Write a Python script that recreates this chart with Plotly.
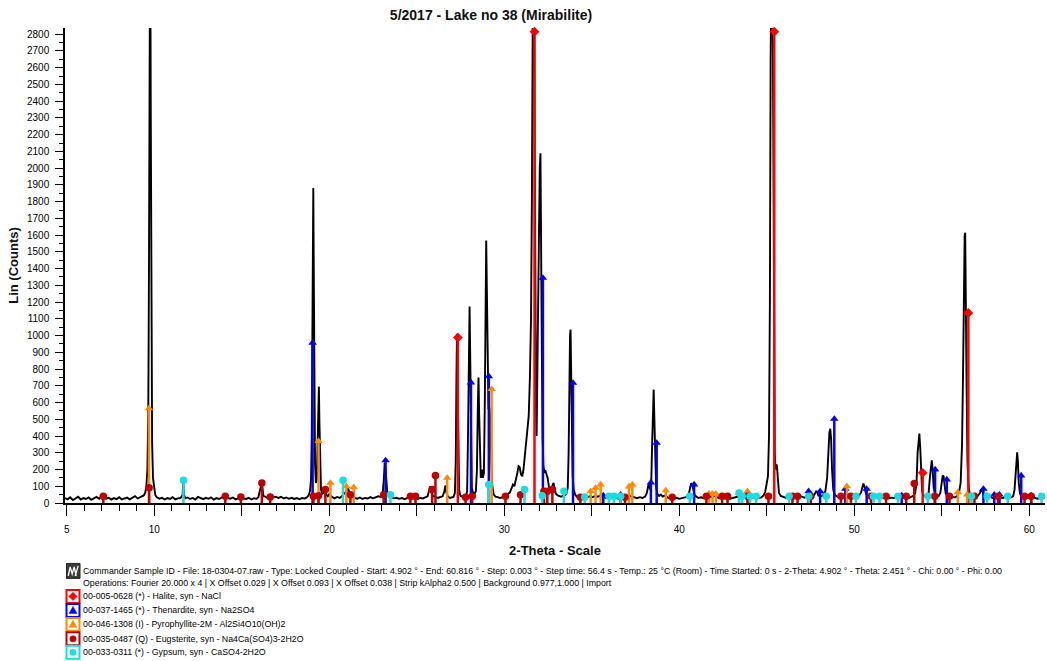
import plotly.graph_objects as go

# ---------------------------------------------------------------------------
# Measured diffractogram: (2-theta in degrees, Lin counts)
# ---------------------------------------------------------------------------
scan = [
    (4.902, 30), (5.05, 22), (5.20, 34), (5.35, 18), (5.50, 27), (5.65, 38), (5.80, 21),
    (5.95, 29), (6.10, 24), (6.25, 33), (6.40, 19), (6.55, 28), (6.70, 36), (6.85, 25),
    (7.00, 44), (7.10, 38), (7.25, 26), (7.40, 31), (7.55, 20), (7.70, 29), (7.85, 23),
    (8.00, 34), (8.15, 21), (8.30, 27), (8.45, 32), (8.60, 22), (8.75, 30), (8.90, 41),
    (9.05, 27), (9.20, 33), (9.30, 38), (9.40, 45),
    (9.48, 60), (9.55, 95), (9.61, 200), (9.66, 520), (9.70, 1400), (9.74, 3300),
    (9.77, 3600), (9.80, 2400), (9.84, 900), (9.88, 360), (9.93, 150), (9.99, 80),
    (10.06, 48), (10.15, 34),
    (10.30, 26), (10.45, 31), (10.60, 21), (10.75, 29), (10.90, 24), (11.05, 35),
    (11.20, 22), (11.35, 28), (11.50, 30), (11.62, 45), (11.66, 122), (11.70, 50),
    (11.78, 28), (11.90, 33), (12.05, 24), (12.20, 30), (12.35, 21), (12.50, 36),
    (12.65, 27), (12.80, 23), (12.95, 31), (13.10, 25), (13.25, 34), (13.40, 20),
    (13.55, 29), (13.70, 24), (13.85, 32), (14.00, 45), (14.08, 50), (14.18, 30),
    (14.35, 26), (14.50, 33), (14.65, 22), (14.80, 28), (14.95, 40), (15.10, 27),
    (15.25, 24), (15.40, 31), (15.55, 21), (15.70, 29), (15.85, 25), (15.95, 34),
    (16.05, 70), (16.12, 110), (16.18, 95), (16.24, 40), (16.35, 38), (16.50, 30),
    (16.65, 45), (16.80, 38), (16.95, 36), (17.10, 30), (17.25, 37), (17.40, 27),
    (17.55, 33), (17.70, 25), (17.85, 31), (18.00, 24), (18.15, 29), (18.30, 22),
    (18.45, 30), (18.60, 27), (18.72, 33), (18.82, 45),
    (18.90, 70), (18.96, 140), (19.00, 380), (19.03, 900), (19.06, 1550), (19.09, 1882),
    (19.12, 1350), (19.15, 600), (19.19, 230), (19.24, 120), (19.29, 140), (19.33, 330),
    (19.37, 620), (19.41, 695), (19.44, 480), (19.48, 190), (19.53, 80), (19.60, 55),
    (19.68, 62), (19.76, 75), (19.84, 48), (19.92, 40), (20.00, 52), (20.08, 42),
    (20.18, 34), (20.30, 28), (20.45, 36), (20.60, 30), (20.72, 40), (20.80, 48),
    (20.90, 60), (21.00, 72), (21.08, 86), (21.14, 70), (21.22, 44), (21.32, 38),
    (21.45, 30), (21.60, 26), (21.75, 33), (21.90, 24), (22.05, 30), (22.20, 27),
    (22.35, 35), (22.50, 28), (22.65, 32), (22.80, 40), (22.95, 36), (23.05, 55),
    (23.12, 140), (23.17, 240), (23.22, 200), (23.27, 90), (23.33, 48), (23.42, 40),
    (23.55, 34), (23.70, 28), (23.85, 31), (24.00, 25), (24.15, 30), (24.30, 23),
    (24.45, 29), (24.60, 34), (24.75, 26), (24.90, 32), (25.05, 24), (25.20, 30),
    (25.35, 27), (25.50, 33), (25.62, 40), (25.72, 80), (25.78, 100), (25.84, 62),
    (25.92, 44), (26.00, 38), (26.10, 32), (26.22, 30), (26.35, 36), (26.48, 40),
    (26.58, 70), (26.64, 105), (26.70, 60), (26.78, 38), (26.90, 30), (27.00, 33),
    (27.10, 36), (27.18, 60), (27.23, 250), (27.27, 750), (27.30, 1011), (27.33, 780),
    (27.37, 280), (27.42, 80), (27.50, 42), (27.60, 38), (27.70, 35), (27.80, 40),
    (27.88, 70), (27.93, 400), (27.98, 1000), (28.02, 1174), (28.06, 850), (28.10, 300),
    (28.15, 90), (28.22, 60), (28.30, 55), (28.38, 70), (28.44, 200), (28.49, 560),
    (28.53, 749), (28.57, 520), (28.62, 220), (28.66, 150), (28.70, 190), (28.74, 200),
    (28.78, 150), (28.84, 180), (28.89, 600), (28.93, 1200), (28.97, 1568), (29.01, 1250),
    (29.05, 700), (29.10, 560), (29.16, 570), (29.21, 480), (29.26, 250), (29.32, 100),
    (29.40, 50), (29.50, 38), (29.62, 35), (29.75, 30), (29.88, 33), (30.00, 42),
    (30.12, 38), (30.22, 55), (30.32, 62), (30.42, 90), (30.50, 110), (30.58, 100),
    (30.66, 130), (30.75, 180), (30.82, 220), (30.88, 215), (30.96, 170), (31.03, 160),
    (31.10, 200), (31.18, 280), (31.26, 360), (31.32, 400), (31.40, 520), (31.47, 760),
    (31.53, 1100), (31.58, 1800), (31.62, 3000), (31.66, 3600), (31.70, 3400),
    (31.74, 2200), (31.78, 1000), (31.82, 520), (31.85, 400), (31.88, 700), (31.91, 936),
    (31.95, 1200), (31.99, 1700), (32.03, 2000), (32.07, 2089), (32.11, 1700),
    (32.15, 900), (32.19, 400), (32.24, 220), (32.30, 185), (32.36, 190), (32.42, 170),
    (32.48, 150), (32.55, 100), (32.62, 75), (32.70, 90), (32.76, 110), (32.82, 120),
    (32.88, 80), (32.95, 55), (33.05, 45), (33.15, 40), (33.25, 38), (33.35, 42),
    (33.45, 45), (33.55, 55), (33.63, 90), (33.68, 300), (33.72, 750), (33.76, 1000),
    (33.79, 1035), (33.82, 850), (33.86, 420), (33.91, 160), (33.97, 80), (34.05, 50),
    (34.15, 38), (34.30, 30), (34.45, 36), (34.60, 28), (34.75, 33), (34.90, 40),
    (35.05, 35), (35.20, 42), (35.35, 38), (35.50, 45), (35.65, 36), (35.80, 30),
    (35.95, 34), (36.10, 28), (36.25, 35), (36.40, 30), (36.55, 26), (36.70, 32),
    (36.85, 28), (37.00, 36), (37.15, 42), (37.30, 38), (37.45, 33), (37.60, 29),
    (37.75, 35), (37.90, 30), (38.05, 38), (38.15, 60), (38.22, 100), (38.28, 118),
    (38.33, 80), (38.40, 120), (38.45, 350), (38.50, 620), (38.54, 677), (38.58, 500),
    (38.63, 200), (38.68, 90), (38.75, 55), (38.85, 42), (38.95, 50), (39.05, 38),
    (39.15, 44), (39.28, 35), (39.40, 30), (39.55, 33), (39.70, 27), (39.85, 31),
    (40.00, 25), (40.15, 29), (40.30, 33), (40.45, 36), (40.55, 55), (40.62, 95),
    (40.68, 118), (40.74, 110), (40.80, 80), (40.88, 48), (40.98, 38), (41.10, 30),
    (41.25, 34), (41.40, 28), (41.55, 32), (41.70, 40), (41.85, 36), (42.00, 42),
    (42.15, 35), (42.30, 29), (42.45, 33), (42.60, 27), (42.75, 31), (42.90, 25),
    (43.05, 30), (43.20, 34), (43.35, 38), (43.50, 42), (43.65, 36), (43.80, 40),
    (43.95, 45), (44.10, 38), (44.25, 33), (44.40, 36), (44.55, 30), (44.70, 34),
    (44.82, 45), (44.92, 70), (45.00, 110), (45.07, 160), (45.13, 400), (45.18, 1200),
    (45.22, 2600), (45.26, 3600), (45.30, 3700), (45.34, 3000), (45.38, 1600),
    (45.42, 700), (45.46, 300), (45.50, 200), (45.54, 230), (45.58, 225), (45.63, 120),
    (45.70, 60), (45.80, 42), (45.95, 35), (46.10, 30), (46.25, 38), (46.40, 33),
    (46.55, 40), (46.70, 36), (46.85, 45), (47.00, 38), (47.15, 32), (47.30, 40),
    (47.45, 48), (47.55, 45), (47.65, 40), (47.75, 55), (47.82, 70), (47.88, 68),
    (47.95, 45), (48.05, 40), (48.15, 42), (48.25, 50), (48.35, 70), (48.45, 150),
    (48.52, 320), (48.58, 420), (48.63, 443), (48.68, 380), (48.73, 200), (48.80, 80),
    (48.88, 50), (48.98, 40), (49.10, 35), (49.25, 42), (49.40, 38), (49.55, 48),
    (49.65, 40), (49.80, 34), (49.95, 30), (50.10, 36), (50.25, 42), (50.38, 60),
    (50.46, 100), (50.52, 116), (50.58, 100), (50.66, 60), (50.75, 40), (50.90, 34),
    (51.05, 30), (51.20, 36), (51.35, 28), (51.50, 33), (51.65, 30), (51.80, 35),
    (51.95, 27), (52.10, 32), (52.25, 29), (52.40, 34), (52.55, 30), (52.70, 36),
    (52.85, 31), (53.00, 35), (53.12, 30), (53.25, 36), (53.38, 42), (53.48, 60),
    (53.56, 120), (53.62, 300), (53.67, 400), (53.72, 415), (53.77, 330), (53.82, 150),
    (53.88, 70), (53.96, 45), (54.05, 40), (54.15, 45), (54.25, 60), (54.32, 150),
    (54.38, 240), (54.43, 255), (54.48, 200), (54.54, 90), (54.62, 50), (54.72, 45),
    (54.82, 42), (54.92, 60), (55.00, 120), (55.05, 160), (55.10, 164), (55.15, 120),
    (55.22, 60), (55.32, 40), (55.45, 35), (55.60, 38), (55.75, 33), (55.88, 42),
    (55.98, 60), (56.08, 120), (56.16, 350), (56.22, 800), (56.27, 1350), (56.31, 1600),
    (56.34, 1614), (56.38, 1300), (56.42, 700), (56.47, 250), (56.53, 100), (56.60, 55),
    (56.70, 40), (56.82, 35), (56.95, 38), (57.08, 45), (57.18, 60), (57.25, 80),
    (57.32, 70), (57.40, 45), (57.52, 36), (57.65, 33), (57.78, 38), (57.90, 30),
    (58.05, 35), (58.20, 28), (58.35, 33), (58.50, 30), (58.65, 36), (58.80, 29),
    (58.95, 34), (59.08, 40), (59.16, 80), (59.22, 200), (59.27, 290), (59.31, 303),
    (59.35, 250), (59.40, 120), (59.47, 55), (59.56, 38), (59.70, 33), (59.85, 30),
    (60.00, 35), (60.15, 28), (60.30, 32), (60.45, 26), (60.60, 30), (60.816, 28),
]
two_theta = [p[0] for p in scan]
counts = [p[1] for p in scan]

# ---------------------------------------------------------------------------
# Reference patterns (stick positions in 2-theta, scaled intensities)
# ---------------------------------------------------------------------------
halite_pos = [27.35, 31.73, 45.43, 53.91, 56.52]
halite_int = [988, 2815, 2815, 180, 1135]

thenardite_pos = [19.05, 23.22, 28.10, 29.12, 32.21, 33.93, 35.66, 36.65, 38.38, 38.71,
                  40.85, 47.39, 48.05, 48.86, 49.49, 50.71, 52.71, 54.62, 55.29, 57.38,
                  58.00, 58.30, 59.54, 60.11]
thenardite_int = [957, 254, 719, 757, 1344, 717, 45, 50, 122, 359,
                  110, 70, 70, 502, 85, 84, 45, 200, 140, 84,
                  50, 50, 164, 45]

pyrophyllite_pos = [9.70, 19.39, 20.07, 20.98, 21.40, 26.74, 29.28, 34.94, 35.22, 35.51,
                    37.13, 37.32, 39.23, 41.70, 41.90, 42.09, 43.42, 43.90, 49.58, 55.92,
                    56.45]
pyrophyllite_int = [565, 369, 120, 100, 94, 150, 680, 70, 90, 110,
                    98, 110, 75, 55, 55, 55, 60, 70, 100, 64,
                    50]

eugsterite_pos = [7.09, 9.71, 14.06, 14.95, 16.15, 16.63, 19.10, 19.39, 19.78, 21.21,
                  23.11, 24.64, 24.93, 25.88, 26.07, 27.79, 28.17, 30.07, 30.93, 32.27,
                  32.46, 32.75, 34.35, 36.90, 39.60, 41.55, 42.45, 42.76, 43.90, 45.10,
                  46.47, 46.76, 47.52, 49.24, 49.81, 50.96, 51.82, 52.97, 53.43, 54.60,
                  55.44, 56.87, 58.21, 59.73, 60.11]
eugsterite_int = [40, 91, 40, 36, 120, 36, 40, 44, 80, 50,
                  50, 40, 40, 80, 164, 34, 40, 40, 50, 70,
                  70, 80, 35, 35, 35, 40, 40, 40, 40, 40,
                  40, 40, 40, 40, 40, 40, 40, 40, 116, 40,
                  40, 40, 40, 40, 40]

gypsum_pos = [11.67, 20.79, 23.50, 29.12, 31.16, 32.17, 33.41, 34.60, 35.98, 36.27,
              36.65, 40.60, 43.42, 43.60, 44.05, 44.40, 46.28, 47.40, 48.40, 50.10,
              51.10, 51.45, 52.50, 54.20, 56.70, 57.60, 58.77, 60.70]
gypsum_int = [136, 136, 50, 110, 80, 44, 70, 36, 40, 40,
              40, 40, 60, 40, 40, 40, 40, 40, 40, 40,
              40, 40, 40, 40, 40, 40, 40, 40]

x_tick_vals = [5, 10, 15, 20, 25, 30, 35, 40, 45, 50, 55, 60]
x_tick_text = ["5", "10", "", "20", "", "30", "", "40", "", "50", "", "60"]

scan_info = ("Commander Sample ID - File: 18-0304-07.raw - Type: Locked Coupled - Start: 4.902 ° - "
             "End: 60.816 ° - Step: 0.003 ° - Step time: 56.4 s - Temp.: 25 °C (Room) - "
             "Time Started: 0 s - 2-Theta: 4.902 ° - Theta: 2.451 ° - Chi: 0.00 ° - Phi: 0.00")
scan_ops = ("Operations: Fourier 20.000 x 4 | X Offset 0.029 | X Offset 0.093 | X Offset 0.038 | "
            "Strip kAlpha2 0.500 | Background 0.977,1.000 | Import")

phases = [
    ("00-005-0628 (*) - Halite, syn - NaCl", halite_pos, halite_int, "#ff0000", "diamond"),
    ("00-037-1465 (*) - Thenardite, syn - Na2SO4", thenardite_pos, thenardite_int, "#0000ff", "triangle"),
    ("00-046-1308 (I) - Pyrophyllite-2M - Al2Si4O10(OH)2", pyrophyllite_pos, pyrophyllite_int, "#ff8a00", "triangle"),
    ("00-035-0487 (Q) - Eugsterite, syn - Na4Ca(SO4)3-2H2O", eugsterite_pos, eugsterite_int, "#c00000", "circle"),
    ("00-033-0311 (*) - Gypsum, syn - CaSO4-2H2O", gypsum_pos, gypsum_int, "#18dde3", "circle"),
]

# ---------------------------------------------------------------------------
W_FIG, H_FIG = 1047, 661
M_L, M_R, M_T, M_B = 65, 2, 28, 157.5
PLOT_W = W_FIG - M_L - M_R
PLOT_H = H_FIG - M_T - M_B
FONT = "Liberation Sans, Arial, sans-serif"
NOTE_SIZE = 8.8


def fx(px):
    return (px - M_L) / PLOT_W


def fy(py):
    return (M_T + PLOT_H - py) / PLOT_H


fig = go.Figure()

fig.add_trace(go.Scatter(
    x=two_theta, y=counts, mode="lines",
    line=dict(color="black", width=1.9), hoverinfo="skip", showlegend=False,
))

symbol_map = {"diamond": "diamond", "triangle": "triangle-up", "circle": "circle"}
for name, pos, inten, color, sym in phases:
    sx, sy = [], []
    for p, h in zip(pos, inten):
        sx += [p, p, None]
        sy += [0, h, None]
    fig.add_trace(go.Scatter(
        x=sx, y=sy, mode="lines", line=dict(color=color, width=2.5),
        hoverinfo="skip", showlegend=False,
    ))
    fig.add_trace(go.Scatter(
        x=pos, y=inten, mode="markers", cliponaxis=False,
        marker=dict(symbol=symbol_map[sym], size=7.5, color=color, line=dict(width=0)),
        name=name, showlegend=False,
    ))

shapes = []
annotations = []

# Scan header rows
annotations.append(dict(text=scan_info, xref="paper", yref="paper", x=fx(81), y=fy(571.5),
                        xanchor="left", yanchor="middle", showarrow=False,
                        font=dict(family=FONT, size=NOTE_SIZE, color="#000")))
annotations.append(dict(text=scan_ops, xref="paper", yref="paper", x=fx(81), y=fy(584),
                        xanchor="left", yanchor="middle", showarrow=False,
                        font=dict(family=FONT, size=NOTE_SIZE, color="#000")))

# Scan icon: dark box with a small white diffractogram glyph
shapes.append(dict(type="rect", xref="paper", yref="paper",
                   x0=fx(66.5), x1=fx(80), y0=fy(579), y1=fy(564),
                   fillcolor="#3c3c3c", line=dict(color="#222", width=1)))
shapes.append(dict(type="path", xref="paper", yref="paper", xsizemode="pixel", ysizemode="pixel",
                   xanchor=fx(73.2), yanchor=fy(571.5),
                   path="M-5,-5 L-3,4 L-1,-3 L1,4 L3,-5 M2,-5 L5,5",
                   line=dict(color="white", width=1.3)))

row_y = [597, 611, 625, 639.5, 653]
for (name, pos, inten, color, sym), ry in zip(phases, row_y):
    shapes.append(dict(type="rect", xref="paper", yref="paper",
                       x0=fx(66.5), x1=fx(79.5), y0=fy(ry + 6.5), y1=fy(ry - 6.5),
                       fillcolor="white", line=dict(color=color, width=2)))
    if sym == "circle":
        shapes.append(dict(type="circle", xref="paper", yref="paper",
                           xsizemode="pixel", ysizemode="pixel",
                           xanchor=fx(73), yanchor=fy(ry),
                           x0=-3.2, x1=3.2, y0=-3.2, y1=3.2,
                           fillcolor=color, line=dict(color=color, width=0.5)))
    elif sym == "triangle":
        shapes.append(dict(type="path", xref="paper", yref="paper",
                           xsizemode="pixel", ysizemode="pixel",
                           xanchor=fx(73), yanchor=fy(ry),
                           path="M-4,-3 L4,-3 L0,4 Z",
                           fillcolor=color, line=dict(color=color, width=0.5)))
    else:
        shapes.append(dict(type="path", xref="paper", yref="paper",
                           xsizemode="pixel", ysizemode="pixel",
                           xanchor=fx(73), yanchor=fy(ry),
                           path="M0,4.2 L4.2,0 L0,-4.2 L-4.2,0 Z",
                           fillcolor=color, line=dict(color=color, width=0.5)))
    annotations.append(dict(text=name, xref="paper", yref="paper", x=fx(81), y=fy(ry),
                            xanchor="left", yanchor="middle", showarrow=False,
                            font=dict(family=FONT, size=NOTE_SIZE, color="#000")))

fig.update_layout(
    width=W_FIG, height=H_FIG,
    margin=dict(l=M_L, r=M_R, t=M_T, b=M_B),
    paper_bgcolor="white", plot_bgcolor="white",
    showlegend=False,
    title=dict(text="<b>5/2017 - Lake no 38 (Mirabilite)</b>",
               xref="container", yref="container", x=491 / W_FIG, y=1 - 15 / H_FIG,
               xanchor="center", yanchor="middle",
               font=dict(family=FONT, size=14, color="#111")),
    shapes=shapes,
    annotations=annotations,
    xaxis=dict(
        range=[4.902, 60.9], showgrid=False, zeroline=False,
        showline=True, linecolor="black", linewidth=1.5,
        tickmode="array", tickvals=x_tick_vals, ticktext=x_tick_text,
        ticks="outside", ticklen=11, tickwidth=1.2, tickcolor="black",
        ticklabelstandoff=5,
        minor=dict(dtick=1, tick0=0, ticks="outside", ticklen=6, tickwidth=1, tickcolor="black"),
        tickfont=dict(family=FONT, size=10, color="#000"),
        title=dict(text="<b>2-Theta - Scale</b>", standoff=12,
                   font=dict(family=FONT, size=13, color="#111")),
    ),
    yaxis=dict(
        range=[0, 2837], showgrid=False, zeroline=False,
        showline=True, linecolor="black", linewidth=1.5,
        tickmode="linear", tick0=0, dtick=100,
        ticks="outside", ticklen=8, tickwidth=1.2, tickcolor="black",
        ticklabelstandoff=4,
        minor=dict(dtick=50, ticks="outside", ticklen=4, tickwidth=1, tickcolor="black"),
        tickfont=dict(family=FONT, size=10, color="#000"),
        title=dict(text="<b>Lin (Counts)</b>", standoff=5,
                   font=dict(family=FONT, size=13, color="#111")),
    ),
)

fig.write_html("out.html")
